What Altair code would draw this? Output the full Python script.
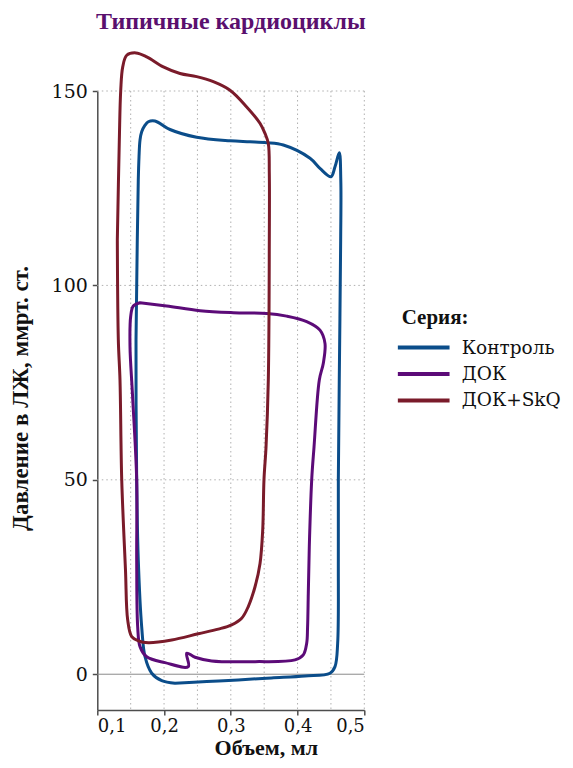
import altair as alt
import pandas as pd

# ---------------- data ----------------
series_names = ["Контроль", "ДОК", "ДОК+SkQ"]
series_colors = ["#0b4d8a", "#5c0b78", "#7a1b2a"]

# Контроль (объем, мл / давление, мм рт. ст.), path order
ctrl_v = [0.2164, 0.2640, 0.3112, 0.3610, 0.4112, 0.4486, 0.4561, 0.4601, 0.4611, 0.4611,
          0.4625, 0.4646, 0.4648, 0.4625, 0.4561, 0.4501, 0.4336, 0.4187, 0.3787, 0.3538,
          0.3288, 0.2988, 0.2489, 0.2089, 0.1864, 0.1764, 0.1715, 0.1665, 0.1640, 0.1625,
          0.1614, 0.1599, 0.1580, 0.1590, 0.1614, 0.1665, 0.1715, 0.1815, 0.1965, 0.2164]
ctrl_p = [-2.31, -1.90, -1.47, -0.95, -0.44, 0.26, 1.95, 7.97, 29.4, 50.0,
          75.7, 111.7, 127.0, 134.1, 130.5, 127.95, 130.1, 132.7, 136.1, 136.7,
          136.95, 137.2, 138.1, 140.1, 142.3, 142.1, 141.2, 139.5, 137.4, 133.1,
          127.1, 111.7, 86.0, 50.0, 29.4, 12.2, 4.5, 0.26, -1.65, -2.31]

# ДОК
dok_v = [0.1640, 0.2040, 0.2539, 0.3037, 0.3538, 0.3837, 0.4137, 0.4336, 0.4411, 0.4386,
         0.4326, 0.4247, 0.4212, 0.4176, 0.4161, 0.4150, 0.4137, 0.4086, 0.3962, 0.3363,
         0.2714, 0.2464, 0.2339, 0.2363, 0.2014, 0.1740, 0.1640, 0.1605, 0.1590, 0.1590,
         0.1527, 0.1490, 0.1500, 0.1539, 0.1640]
dok_p = [95.55, 94.7, 93.5, 93.0, 92.8, 92.1, 90.7, 88.5, 85.1, 80.0,
         75.7, 58.5, 50.0, 32.8, 20.8, 12.0, 7.97, 4.96, 3.68, 3.24,
         3.42, 4.37, 5.4, 1.95, 2.98, 4.5, 7.1, 12.2, 29.4, 50.0,
         72.0, 84.2, 92.0, 94.7, 95.55]

# ДОК+SkQ
skq_v = [0.1300, 0.1330, 0.1351, 0.1381, 0.1441, 0.1580, 0.1740, 0.1989, 0.2239, 0.2489,
         0.2738, 0.2988, 0.3238, 0.3437, 0.3512, 0.3562, 0.3577, 0.3577, 0.3562, 0.3528,
         0.3497, 0.3478, 0.3438, 0.3363, 0.3262, 0.3163, 0.3013, 0.2813, 0.2513, 0.2115,
         0.1764, 0.1614, 0.1515, 0.1455, 0.1422, 0.1366, 0.1340, 0.1315, 0.1300]
skq_p = [111.7, 137.4, 150.2, 156.2, 159.2, 159.8, 158.8, 156.2, 154.5, 153.7,
         152.4, 150.2, 145.9, 141.7, 139.1, 136.5, 128.8, 111.7, 75.7, 58.5,
         50.0, 37.1, 28.5, 22.5, 17.4, 14.4, 12.7, 11.6, 10.4, 8.8,
         8.1, 8.6, 9.7, 14.0, 26.9, 50.0, 75.7, 86.0, 111.7]

x_ticks = [0.1, 0.2, 0.3, 0.4, 0.5]
y_ticks = [0, 50, 100, 150]
x_grid = [0.15, 0.2, 0.25, 0.3, 0.35, 0.4, 0.45, 0.5]
y_grid = [50, 100, 150]

# ---------------- build table ----------------
rows = []
for name, vs, ps in [(series_names[0], ctrl_v, ctrl_p),
                     (series_names[1], dok_v, dok_p),
                     (series_names[2], skq_v, skq_p)]:
    for i, (v, p) in enumerate(zip(vs, ps)):
        rows.append({"series": name, "i": i, "v": v, "p": p})
df = pd.DataFrame(rows)

FONT = "Liberation Serif"
LFONT = "DejaVu Serif"
AX = "#4d4d4d"

xscale = alt.Scale(domain=[0.1, 0.5], nice=False, zero=False)
yscale = alt.Scale(domain=[-9.2, 150], nice=False, zero=False)

xaxis = alt.Axis(values=x_ticks, grid=False,
                 labelExpr="replace(format(datum.value, '.1f'), '.', ',')",
                 tickSize=5, labelPadding=3, domainColor=AX, tickColor=AX,
                 domainWidth=1.5, tickWidth=1.5,
                 labelFont=LFONT, labelFontSize=18, labelFontWeight="normal",
                 labelColor="#111111",
                 title="Объем, мл", titleFont=FONT, titleFontSize=22,
                 titleFontWeight="bold", titleColor="#111111",
                 titleX=168.5, titleY=44.5, titleBaseline="alphabetic",
                 titleAlign="center")
yaxis = alt.Axis(values=y_ticks, grid=False, format="d",
                 tickSize=5, labelPadding=5, domainColor=AX, tickColor=AX,
                 domainWidth=1.5, tickWidth=1.5,
                 labelFont=LFONT, labelFontSize=19, labelFontWeight="normal",
                 labelColor="#111111",
                 title="Давление в ЛЖ, ммрт. ст.", titleFont=FONT, titleFontSize=23,
                 titleFontWeight="bold", titleColor="#111111",
                 titleX=-70, titleY=307, titleAngle=-90,
                 titleBaseline="alphabetic", titleAlign="center")

x_enc = alt.X("v:Q", scale=xscale, axis=xaxis)
y_enc = alt.Y("p:Q", scale=yscale, axis=yaxis)

vgrid = alt.Chart(pd.DataFrame({"v": x_grid})).mark_rule(
    color="#b0b0b0", strokeDash=[1.5, 3], strokeWidth=1).encode(x=x_enc)
hgrid = alt.Chart(pd.DataFrame({"p": y_grid})).mark_rule(
    color="#b0b0b0", strokeDash=[1.5, 3], strokeWidth=1).encode(y=y_enc)
zero = alt.Chart(pd.DataFrame({"p": [0]})).mark_rule(
    color="#8a8a8a", strokeWidth=1).encode(y=y_enc)

lines = alt.Chart(df).mark_line(
    interpolate="catmull-rom", strokeWidth=3, strokeCap="round", strokeJoin="round"
).encode(
    x=x_enc,
    y=y_enc,
    order="i:Q",
    color=alt.Color(
        "series:N",
        scale=alt.Scale(domain=series_names, range=series_colors),
        legend=alt.Legend(
            title="Серия:", orient="none", legendX=304.4, legendY=215.5,
            titleFont=FONT, titleFontSize=21, titleFontWeight="bold",
            titleColor="#111111", titlePadding=7,
            labelFont=LFONT, labelFontSize=18.5, labelFontWeight="normal",
            labelColor="#111111",
            symbolType="M-2.35,0H2.35", symbolSize=484, symbolStrokeWidth=4,
            symbolOffset=9, labelOffset=25, rowPadding=3.5, padding=0,
        ),
    ),
)

chart = alt.layer(vgrid, hgrid, zero, lines).properties(
    width=267, height=619,
    title=alt.TitleParams(
        "Типичные кардиоциклы", font=FONT, fontSize=24, fontWeight="bold",
        color="#5a0f6e", anchor="middle", frame="group",
        baseline="alphabetic", offset=5, dy=7,
    ),
    autosize=alt.AutoSizeParams(type="none"),
    padding={"left": 89.3, "top": 83, "right": 200, "bottom": 50},
).configure_view(stroke=None)

chart.save("out.html", embed_options={"renderer": "svg", "actions": False})
